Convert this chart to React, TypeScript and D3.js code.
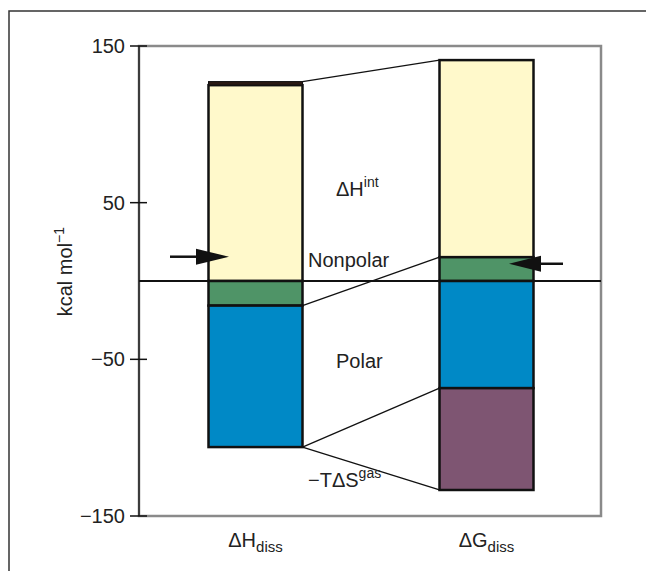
import React from "react";
import * as d3 from "d3";

const categories = ["ΔH", "ΔG"];
// segments: [category, low, high, kind]
const segLow = [0, -15.7, -106, 125, 15.2, 0, -68.4, -133.4];
const segHigh = [125, 0, -15.7, 127.3, 141, 15.2, 0, -68.4];
const segCat = [0, 0, 0, 0, 1, 1, 1, 1];
const segKind = ["int", "nonpolar", "polar", "cap", "int", "nonpolar", "polar", "entropy"];
// connectors: left bar value -> right bar value
const connFrom = [127.3, -15.7, -106, -106];
const connTo = [141, 15.2, -68.4, -133.4];
const yTicks = [150, 50, -50, -150];
const arrowValues = [15.5, 11];

const colors: Record<string, string> = {
  int: "#fff9cb",
  nonpolar: "#4f9467",
  polar: "#0089c6",
  cap: "#2a1a14",
  entropy: "#7e5572",
};

const FONT = "'Liberation Sans', Arial, Helvetica, sans-serif";

export default function App() {
  const y = d3.scaleLinear().domain([-150, 150]).range([516, 46]);
  const x = d3.scalePoint<string>().domain(categories).range([255.5, 486.5]);
  const bw = 94;
  const axisX = 139;
  const frameRight = 601;
  const xl = (i: number) => (x(categories[i]) as number) - bw / 2;
  const xr = (i: number) => (x(categories[i]) as number) + bw / 2;

  return (
    <svg width={646} height={571} style={{ position: "absolute", left: 0, top: 0 }} fontFamily={FONT}>
      <rect x={0} y={0} width={646} height={571} fill="#fff" />
      <rect x={9} y={11} width={680} height={620} fill="none" stroke="#333" strokeWidth={1.5} />
      {/* plot frame */}
      <rect x={axisX} y={y(150)} width={frameRight - axisX} height={y(-150) - y(150)} fill="none" stroke="#8a8a8a" strokeWidth={2.5} />
      <line x1={axisX} x2={axisX} y1={y(150)} y2={y(-150)} stroke="#111" strokeWidth={1.3} />
      {yTicks.map((t) => (
        <g key={t}>
          <line x1={130} x2={147} y1={y(t)} y2={y(t)} stroke="#111" strokeWidth={1.5} />
          <text x={125} y={y(t)} dy="0.35em" textAnchor="end" fontSize={20} fill="#222">
            {t < 0 ? "\u2212" + Math.abs(t) : String(t)}
          </text>
        </g>
      ))}
      <text transform={`translate(72,${y(6)}) rotate(-90)`} textAnchor="middle" fontSize={20} fill="#222">
        kcal mol<tspan dy={-8} fontSize={14}>{"\u22121"}</tspan>
      </text>
      {/* connectors */}
      {connFrom.map((v, i) => (
        <line key={i} x1={xr(0)} y1={y(v)} x2={xl(1)} y2={y(connTo[i])} stroke="#111" strokeWidth={1.3} />
      ))}
      {/* bars */}
      {segLow.map((lo, i) => (
        <rect
          key={i}
          x={xl(segCat[i])}
          width={bw}
          y={y(segHigh[i])}
          height={y(lo) - y(segHigh[i])}
          fill={colors[segKind[i]]}
          stroke="#111"
          strokeWidth={segKind[i] === "cap" ? 1 : 2.5}
        />
      ))}
      {/* zero line */}
      <line x1={axisX} x2={frameRight} y1={y(0)} y2={y(0)} stroke="#111" strokeWidth={2} />
      {/* arrows */}
      <line x1={170} x2={200} y1={y(arrowValues[0])} y2={y(arrowValues[0])} stroke="#111" strokeWidth={2.5} />
      <path d={`M196,${y(arrowValues[0]) - 8} L229,${y(arrowValues[0])} L196,${y(arrowValues[0]) + 8} Z`} fill="#111" />
      <line x1={563} x2={535} y1={y(arrowValues[1])} y2={y(arrowValues[1])} stroke="#111" strokeWidth={2.5} />
      <path d={`M541,${y(arrowValues[1]) - 8} L509,${y(arrowValues[1])} L541,${y(arrowValues[1]) + 8} Z`} fill="#111" />
      {/* labels */}
      <text x={336} y={196} fontSize={20} fill="#222">
        ΔH<tspan dy={-9} fontSize={14}>int</tspan>
      </text>
      <text x={308} y={267} fontSize={20} fill="#222">Nonpolar</text>
      <text x={336} y={368} fontSize={20} fill="#222">Polar</text>
      <text x={308} y={487} fontSize={20} fill="#222">
        {"\u2212"}TΔS<tspan dy={-9} fontSize={14}>gas</tspan>
      </text>
      <text x={x(categories[0]) as number} y={547} textAnchor="middle" fontSize={20} fill="#222">
        ΔH<tspan dy={5} fontSize={15}>diss</tspan>
      </text>
      <text x={x(categories[1]) as number} y={547} textAnchor="middle" fontSize={20} fill="#222">
        ΔG<tspan dy={5} fontSize={15}>diss</tspan>
      </text>
    </svg>
  );
}
